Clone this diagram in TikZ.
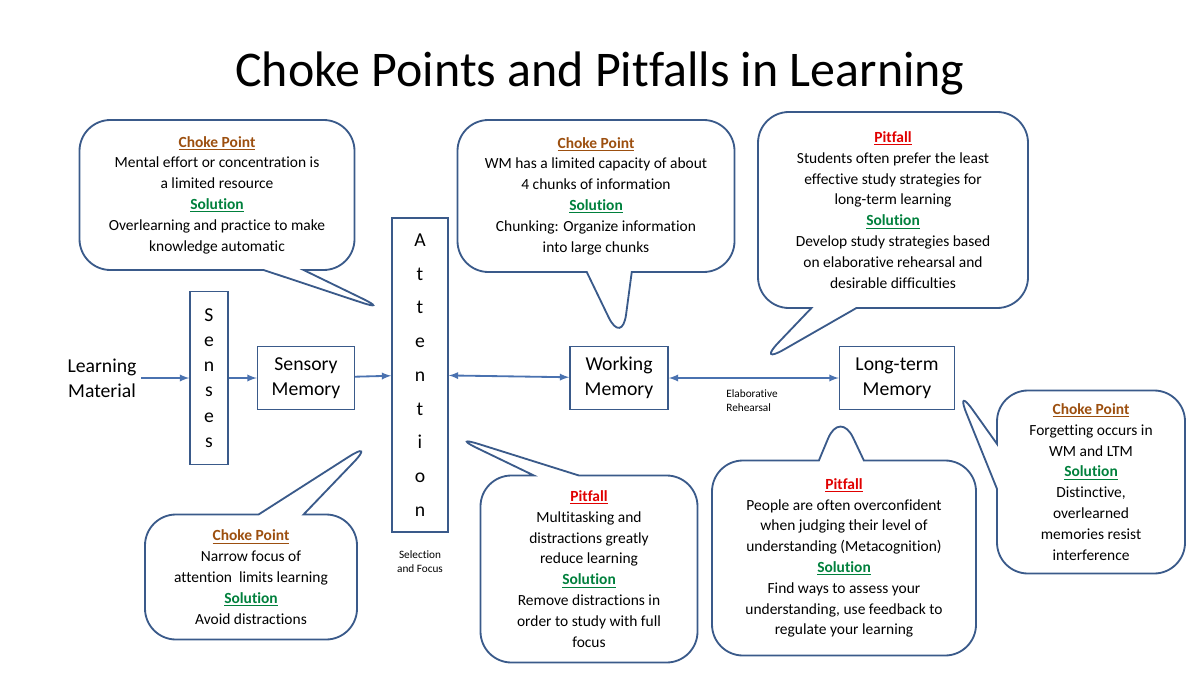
\documentclass[tikz,border=0pt]{standalone}
\usepackage{fontspec}
\setmainfont[Ligatures=NoCommon]{Carlito}
\usetikzlibrary{shapes.callouts,positioning}
\definecolor{boxline}{HTML}{3A5A8A}
\definecolor{arrowc}{HTML}{4A72B0}
\definecolor{chk}{HTML}{9C4F0F}
\definecolor{sol}{HTML}{00803C}
\definecolor{pit}{HTML}{E00000}
\newcommand\chk{\textcolor{chk}{\textbf{\underline{Choke Point}}}}
\newcommand\sol{\textcolor{sol}{\textbf{\underline{Solution}}}}
\newcommand\pit{\textcolor{pit}{\textbf{\underline{Pitfall}}}}
\tikzset{
  bubble/.style={rectangle callout,draw=boxline,line width=1.3pt,rounded corners=22pt,
    align=center,inner sep=0pt,font=\fontsize{11}{14.8}\selectfont},
  stage/.style={draw=boxline,line width=1pt,align=center,inner sep=0pt,font=\fontsize{14}{18}\selectfont},
  flow/.style={-latex,draw=arrowc,line width=1.3pt},
  small/.style={font=\fontsize{8}{10}\selectfont,align=left}
}
\begin{document}
\begin{tikzpicture}[x=0.025cm,y=-0.025cm]
  \useasboundingbox (0,0) rectangle (1200,675);
  \node[font=\fontsize{35.5}{42}\selectfont] (title) at (600,73) {Choke Points and Pitfalls in Learning};
  % main flow
  \node[font=\fontsize{14}{18}\selectfont,align=center] (lm) at (102,378) {Learning\\Material};
  \node[stage,minimum width=38*0.025cm,minimum height=173*0.025cm] (sen) at (209,378) {S\\e\\n\\s\\e\\s};
  \node[stage,minimum width=97*0.025cm,minimum height=63*0.025cm] (sm) at (306,378) {Sensory\\Memory};
  \node[stage,minimum width=56*0.025cm,minimum height=314*0.025cm,font=\fontsize{14}{24}\selectfont] (att) at (420,375) {A\\t\\t\\e\\n\\t\\i\\o\\n};
  \node[stage,minimum width=98*0.025cm,minimum height=63*0.025cm] (wm) at (619,378) {Working\\Memory};
  \node[stage,minimum width=115*0.025cm,minimum height=63*0.025cm] (ltm) at (897,378) {Long-term\\Memory};
  \node[small] (er) at (752,401) {Elaborative\\Rehearsal};
  \node[small,align=center] (sf) at (420,562) {Selection\\and Focus};
  \draw[flow] (lm) -- (sen);
  \draw[flow] (sen) -- (sm);
  \draw[flow] (sm) -- (att);
  \draw[flow,latex-latex] (att) -- (wm);
  \draw[flow,latex-latex] (wm) -- (ltm);
  % callouts
  \node[bubble,minimum width=275*0.025cm,minimum height=150*0.025cm,callout absolute pointer={(390,312)},
    callout pointer width=40*0.025cm] (c1) at (217,195)
    {\chk\\Mental effort or concentration is\\a limited resource\\\sol\\Overlearning and practice to make\\knowledge automatic};
  \node[bubble,minimum width=277*0.025cm,minimum height=152*0.025cm,callout absolute pointer={(622,345)},
    callout pointer width=45*0.025cm] (c2) at (596,196)
    {\chk\\WM has a limited\ capacity of about\\4 chunks of information\\\sol\\Chunking: Organize information\\into large chunks};
  \node[bubble,minimum width=270*0.025cm,minimum height=196*0.025cm,callout absolute pointer={(757,365)},
    callout pointer width=45*0.025cm] (c3) at (893,210)
    {\pit\\Students often prefer the least\\effective study strategies for\\long-term learning\\\sol\\Develop study strategies based\\on elaborative rehearsal and\\desirable difficulties};
  \node[bubble,minimum width=212*0.025cm,minimum height=125*0.025cm,callout absolute pointer={(375,440)},
    callout pointer width=45*0.025cm] (c4) at (251,577)
    {\chk\\Narrow focus of\\attention\ \ limits learning\\\sol\\Avoid distractions};
  \node[bubble,minimum width=217*0.025cm,minimum height=187*0.025cm,callout absolute pointer={(450,435)},
    callout pointer width=45*0.025cm] (c5) at (589,569)
    {\pit\\Multitasking and\\distractions greatly\\reduce learning\\\sol\\Remove distractions in\\order to study with full\\focus};
  \node[bubble,minimum width=264*0.025cm,minimum height=195*0.025cm,callout absolute pointer={(840,410)},
    callout pointer width=45*0.025cm] (c6) at (844,558)
    {\pit\\People are often overconfident\\when judging their level of\\understanding (Metacognition)\\\sol\\Find ways to assess your\\understanding, use feedback to\\regulate your learning};
  \node[bubble,minimum width=188*0.025cm,minimum height=183*0.025cm,callout absolute pointer={(955,385)},
    callout pointer width=45*0.025cm] (c7) at (1091,482)
    {\chk\\Forgetting occurs in\\WM and LTM\\\sol\\Distinctive,\\overlearned\\memories resist\\interference};
\end{tikzpicture}
\end{document}
